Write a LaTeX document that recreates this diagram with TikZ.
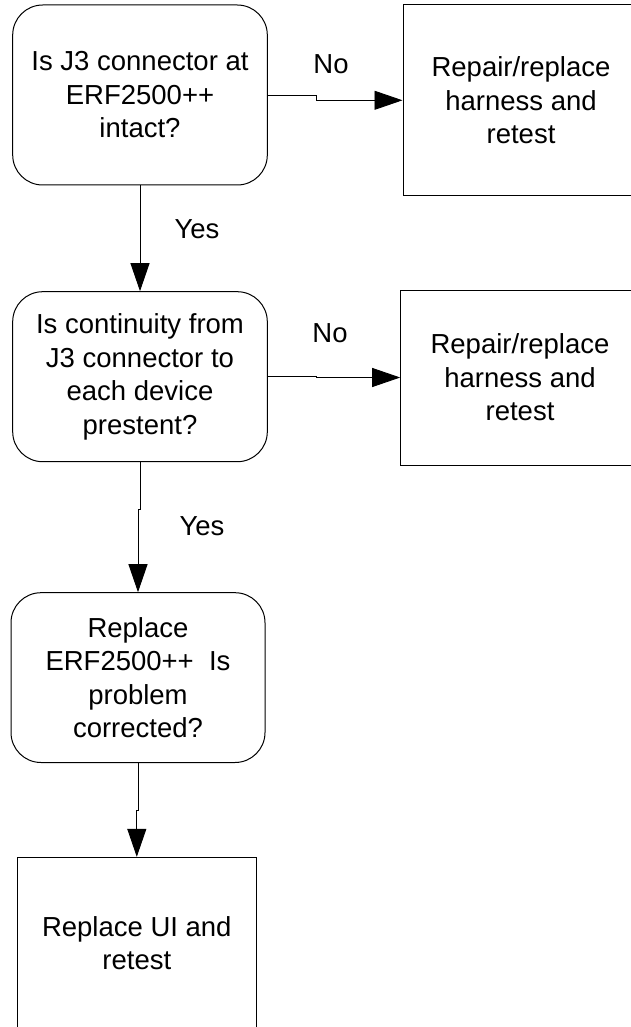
\documentclass[tikz,border=0pt]{standalone}
\usepackage{fontspec}
\setmainfont{Liberation Sans}
\usetikzlibrary{arrows.meta}
\begin{document}
\begin{tikzpicture}[x=1pt,y=-1pt]
\tikzset{
  base/.style={draw=black, line width=1pt, align=center, inner sep=0pt,
    font=\fontsize{27.5}{33.5}\selectfont},
  decision/.style={base, rounded corners=30pt},
  action/.style={base},
  conn/.style={line width=0.9pt, -{Triangle[length=28pt,width=19pt]}},
  lbl/.style={inner sep=0pt, font=\fontsize{27.5}{33.5}\selectfont}
}
\useasboundingbox (0,0) rectangle (631,1027);
\fill[white] (0,0) rectangle (631,1027);

\node[decision, minimum width=254.6pt, minimum height=180pt] (b1) at (140,95)
  {Is J3 connector at\\ERF2500++\\intact?};
\node[decision, minimum width=254.6pt, minimum height=170pt] (b2) at (140,376.7)
  {Is continuity from\\J3 connector to\\each device\\prestent?};
\node[decision, minimum width=254pt, minimum height=169.8pt] (b3) at (138,677.6)
  {Replace\\ERF2500++\ \ Is\\problem\\corrected?};
\node[action, minimum width=239pt, minimum height=171.7pt] (b4) at (136.8,943.2)
  {Replace UI and\\retest};
\node[action, minimum width=236pt, minimum height=190.7pt] (r1) at (521,100.3)
  {Repair/replace\\harness and\\retest};
\node[action, minimum width=238.6pt, minimum height=175pt] (r2) at (520,377.5)
  {Repair/replace\\harness and\\retest};

\coordinate (jx) at (316,0);
\coordinate (jy2) at (0,509);
\coordinate (jy3) at (0,810);

\draw[conn] (b1.east) -- (b1.east -| jx) |- (r1.west);
\draw[conn] (b2.east) -- (b2.east -| jx) |- (r2.west);
\draw[conn] (b1.south) -- (b2.north);
\draw[conn] (b2.south) -- (b2.south |- jy2) -| (b3.north);
\draw[conn] (b3.south) -- (b3.south |- jy3) -| (b4.north);

\node[lbl] (no1) at (331,64.5) {No};
\node[lbl] (no2) at (330,333.3) {No};
\node[lbl] (yes1) at (197,229) {Yes};
\node[lbl] (yes2) at (202,526.5) {Yes};
\end{tikzpicture}
\end{document}
